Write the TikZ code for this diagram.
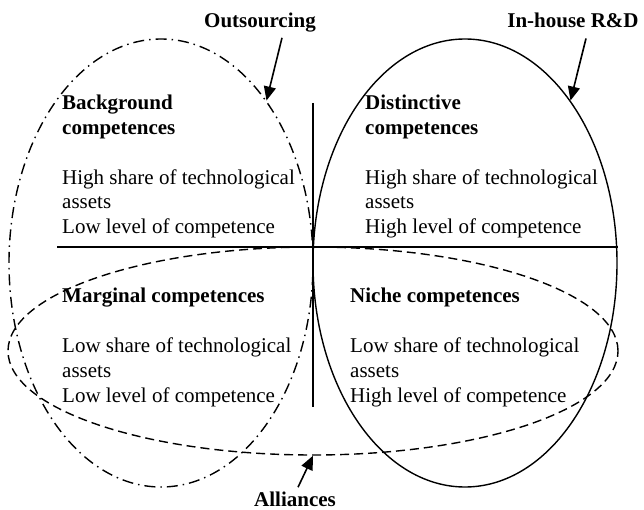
\documentclass[tikz,border=0pt]{standalone}
\usepackage{fontspec}
\setmainfont{Liberation Serif}
\usetikzlibrary{shapes.geometric,arrows.meta}
\begin{document}
\begin{tikzpicture}[x=1pt,y=-1pt,
  every node/.style={inner sep=0pt},
  txt/.style={anchor=base west,font=\fontsize{21}{25}\selectfont},
  hd/.style={anchor=base west,font=\fontsize{21}{25}\selectfont\bfseries},
  lbl/.style={anchor=base,font=\fontsize{21}{25}\selectfont\bfseries},
  oval/.style={ellipse,draw,line width=1.4pt,minimum width=304pt,minimum height=448pt},
  ptr/.style={-{Triangle[length=14pt,width=12pt]},line width=1.6pt},
  axisline/.style={line width=1.5pt}]
\useasboundingbox (0,0) rectangle (644,510);

% ovals
\node[oval,dash pattern=on 11pt off 5pt on 1.5pt off 5pt] (dd) at (161,263) {};
\node[oval] (ins) at (465,263) {};
\node[ellipse,draw,line width=1.4pt,dash pattern=on 9pt off 5pt,minimum width=610pt,minimum height=208pt] (al) at (313,351) {};

% axes
\coordinate (hl) at (57,247);
\coordinate (hr) at (618,247);
\coordinate (vt) at (313,103);
\coordinate (vb) at (313,407);
\draw[axisline] (hl) -- (hr);
\draw[axisline] (vt) -- (vb);

% top-left
\node[hd] (bg1) at (62,110) {Background};
\node[hd] (bg2) at (62,135) {competences};
\node[txt] (bg3) at (62,185) {High share of technological};
\node[txt] (bg4) at (62,209) {assets};
\node[txt] (bg5) at (62,234) {Low level of competence};

% top-right
\node[hd] (di1) at (365,110) {Distinctive};
\node[hd] (di2) at (365,135) {competences};
\node[txt] (di3) at (365,185) {High share of technological};
\node[txt] (di4) at (365,209) {assets};
\node[txt] (di5) at (365,234) {High level of competence};

% bottom-left
\node[hd] (ma1) at (62,302) {Marginal competences};
\node[txt] (ma2) at (62,352) {Low share of technological};
\node[txt] (ma3) at (62,377) {assets};
\node[txt] (ma4) at (62,402) {Low level of competence};

% bottom-right
\node[hd] (ni1) at (350,302) {Niche competences};
\node[txt] (ni2) at (350,352) {Low share of technological};
\node[txt] (ni3) at (350,377) {assets};
\node[txt] (ni4) at (350,402) {High level of competence};

% labels
\node[lbl] (out) at (260,28) {Outsourcing};
\node[lbl] (inh) at (573,28) {In-house R\&D};
\node[lbl] (all) at (295,506) {Alliances};

\draw[ptr] ([xshift=22pt,yshift=-5pt]out.south) -- (dd.57.5);
\draw[ptr] ([xshift=13pt,yshift=-10pt]inh.south) -- (ins.57.5);
\draw[ptr] ([xshift=3pt,yshift=4pt]all.north) -- (al.south);
\end{tikzpicture}
\end{document}
